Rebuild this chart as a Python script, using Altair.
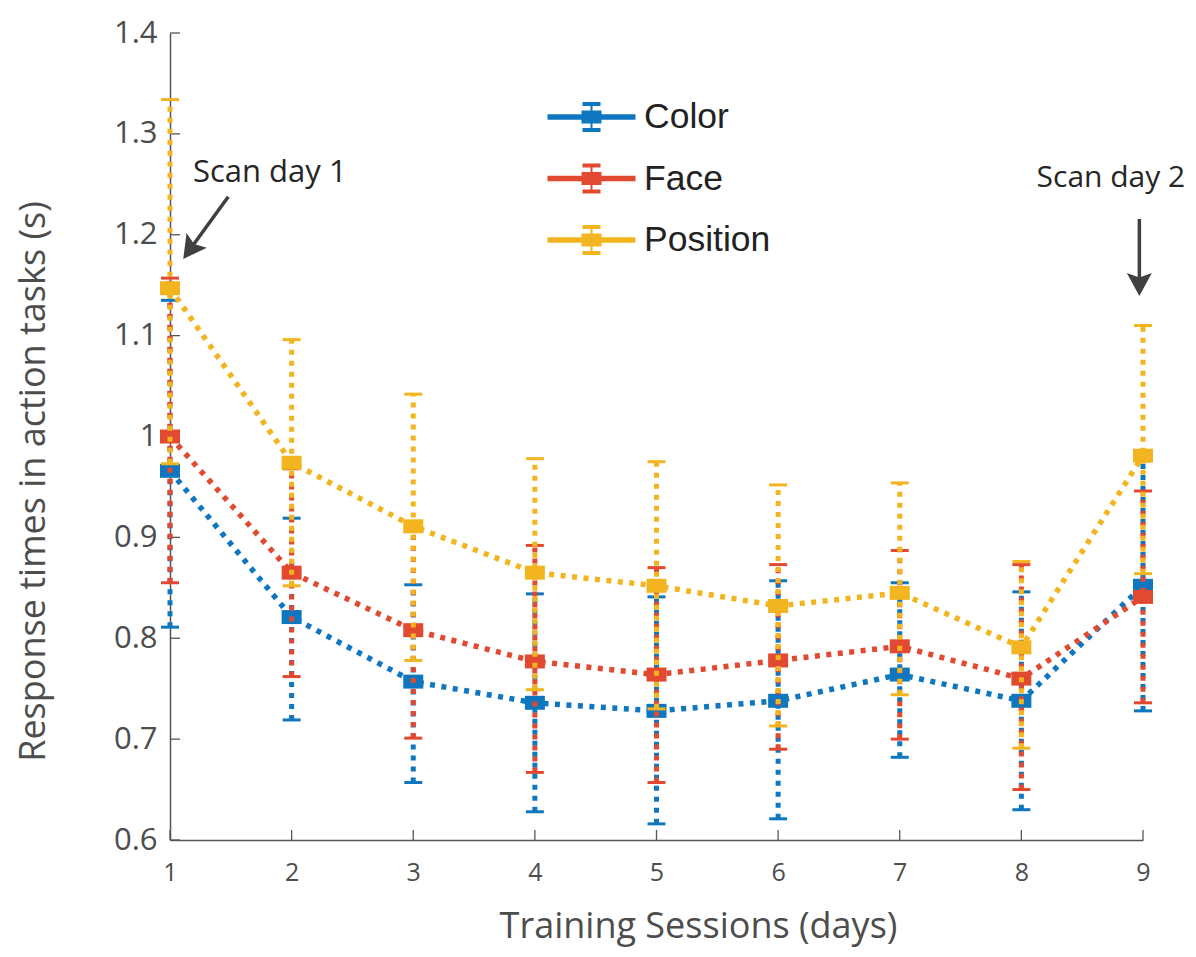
import altair as alt
import pandas as pd

# ---------------- data ----------------
days = [1, 2, 3, 4, 5, 6, 7, 8, 9]
series_names = ["Color", "Face", "Position"]
series_colors = ["#0E77BF", "#E14A31", "#F3B51F"]

color_mean = [0.966, 0.821, 0.757, 0.736, 0.728, 0.738, 0.764, 0.738, 0.852]
color_lo = [0.811, 0.719, 0.657, 0.628, 0.616, 0.621, 0.682, 0.630, 0.728]
color_hi = [1.135, 0.919, 0.853, 0.844, 0.841, 0.857, 0.855, 0.846, 0.976]

face_mean = [1.000, 0.865, 0.808, 0.777, 0.764, 0.778, 0.792, 0.760, 0.841]
face_lo = [0.855, 0.762, 0.701, 0.667, 0.657, 0.690, 0.700, 0.650, 0.736]
face_hi = [1.157, 0.968, 0.912, 0.892, 0.870, 0.873, 0.887, 0.873, 0.946]

pos_mean = [1.147, 0.974, 0.911, 0.865, 0.852, 0.832, 0.845, 0.791, 0.981]
pos_lo = [0.973, 0.852, 0.778, 0.749, 0.730, 0.713, 0.744, 0.691, 0.864]
pos_hi = [1.334, 1.096, 1.042, 0.978, 0.975, 0.952, 0.954, 0.876, 1.110]

y_ticks = [0.6, 0.7, 0.8, 0.9, 1.0, 1.1, 1.2, 1.3, 1.4]

ann_text = ["Scan day 1", "Scan day 2"]
ann_x = [1.189, 8.125]
ann_y = [1.2523, 1.2476]
ann_size = [31, 30]
arrow_x0 = [1.479, 8.97]
arrow_y0 = [1.2377, 1.2156]
arrow_x1 = [1.1668, 8.97]
arrow_y1 = [1.1858, 1.1512]
tip_x = [1.109, 8.97]
tip_y = [1.176, 1.1393]
tip_angle = [215.8, 180.0]

# ---------------- tables ----------------
rows = []
for name, m, lo, hi in [("Color", color_mean, color_lo, color_hi),
                        ("Face", face_mean, face_lo, face_hi),
                        ("Position", pos_mean, pos_lo, pos_hi)]:
    for d, a, b, c in zip(days, m, lo, hi):
        rows.append({"day": d, "series": name, "mean": a, "lo": b, "hi": c})
df = pd.DataFrame(rows)

ann_df = pd.DataFrame({"text": ann_text, "x": ann_x, "y": ann_y, "fs": ann_size,
                       "x0": arrow_x0, "y0": arrow_y0, "x1": arrow_x1, "y1": arrow_y1,
                       "tx": tip_x, "ty": tip_y, "ang": tip_angle})
ytick_df = pd.DataFrame({"v": y_ticks})
xtick_df = pd.DataFrame({"d": days})

W, H = 973, 807
xscale = alt.Scale(domain=[1, 9], nice=False, zero=False)
yscale = alt.Scale(domain=[0.6, 1.4], nice=False, zero=False)
cscale = alt.Scale(domain=series_names, range=series_colors)

AX_COLOR = "#555555"
TXT_COLOR = "#4d4d4d"

x_axis = alt.Axis(values=days, format="d", labelFontSize=25, labelPadding=20,
                  labelFlush=False,
                  ticks=False, tickSize=0, grid=False,
                  title="Training Sessions (days)", titleX=528, titleY=97,
                  titleBaseline="alphabetic", titleAlign="center")
y_axis = alt.Axis(values=y_ticks,
                  labelExpr="datum.value == 1 ? '1' : format(datum.value, '.1f')",
                  labelFontSize=31, labelPadding=13, labelFlush=False,
                  ticks=False, tickSize=0, grid=False,
                  title="Response times in action tasks (s)", titleX=-126, titleY=448,
                  titleAngle=270, titleBaseline="alphabetic", titleAlign="center")

legend_path = ("M-2.2,-0.14H2.2V0.14H-2.2Z "
               "M-0.5,-0.33H0.5V0.33H-0.5Z "
               "M-0.45,-0.75H0.45V-0.55H-0.45Z "
               "M-0.45,0.55H0.45V0.75H-0.45Z "
               "M-0.05,-0.65H0.05V0.65H-0.05Z")
marker_path = "M-1,-0.7H1V0.7H-1Z"
head_path = "M0,0L1.09,2L0,1.6L-1.09,2Z"

legend = alt.Legend(
    title=None, orient="none", legendX=401.5, legendY=64,
    symbolType=legend_path, symbolSize=1600, symbolStrokeWidth=0,
    symbolOpacity=1,
    labelFont="Liberation Sans", labelFontSize=35.5, labelColor="#222222",
    labelOffset=32.5, rowPadding=22.5, padding=0, labelLimit=0,
    values=series_names)


def X(field):
    return alt.X(field, scale=xscale, axis=x_axis)


def Y(field):
    return alt.Y(field, scale=yscale, axis=y_axis)


col = alt.Color("series:N", scale=cscale, legend=legend)

ytick_layer = alt.Chart(ytick_df).mark_rule(color=AX_COLOR, strokeWidth=1.3).encode(
    y=Y("v:Q"), x=alt.value(0), x2=alt.value(10),
)
xtick_layer = alt.Chart(xtick_df).mark_rule(color=AX_COLOR, strokeWidth=1.3).encode(
    x=X("d:Q"), y=alt.value(H), y2=alt.value(H - 10),
)

layers = [ytick_layer, xtick_layer]

for i, s in enumerate(series_names):
    base = alt.Chart(df).transform_filter(alt.datum.series == s)
    err = base.mark_rule(strokeWidth=5, strokeDash=[5, 6], strokeCap="butt").encode(
        x=X("day:Q"), y=Y("lo:Q"), y2="hi:Q", color=col)
    cap_lo = base.mark_tick(orient="horizontal", size=18, thickness=3, opacity=1).encode(
        x=X("day:Q"), y=Y("lo:Q"), color=col)
    cap_hi = base.mark_tick(orient="horizontal", size=18, thickness=3, opacity=1).encode(
        x=X("day:Q"), y=Y("hi:Q"), color=col)
    line = base.mark_line(strokeWidth=5.5, strokeDash=[5, 6.5], strokeCap="butt").encode(
        x=X("day:Q"), y=Y("mean:Q"), color=col)
    pts = base.mark_point(shape=marker_path, size=400, filled=True, opacity=1,
                          strokeWidth=0).encode(
        x=X("day:Q"), y=Y("mean:Q"), color=col)
    layers += [err, cap_lo, cap_hi, line, pts]

ann_base = alt.Chart(ann_df)
ann_text_layer = ann_base.mark_text(align="left", baseline="alphabetic", font="Open Sans",
                                    color="#262626").encode(
    x=X("x:Q"), y=Y("y:Q"), text="text:N", size=alt.Size("fs:Q", scale=None, legend=None))
ann_shaft = ann_base.mark_rule(color="#404040", strokeWidth=3.5).encode(
    x=X("x0:Q"), y=Y("y0:Q"), x2="x1:Q", y2="y1:Q")
ann_head = ann_base.mark_point(shape=head_path, size=529, filled=True, opacity=1,
                               color="#404040", strokeWidth=0).encode(
    x=X("tx:Q"), y=Y("ty:Q"), angle=alt.Angle("ang:Q", scale=None))
layers += [ann_shaft, ann_head, ann_text_layer]

chart = alt.layer(*layers).properties(
    width=W, height=H,
    autosize=alt.AutoSizeParams(type="none"),
    padding={"left": 162, "top": 25, "right": 45, "bottom": 109},
).configure_view(stroke=None).configure_axis(
    labelFont="Open Sans", labelColor=TXT_COLOR, titleFont="Open Sans",
    titleFontSize=36, titleFontWeight="normal", titleColor=TXT_COLOR,
    domainColor=AX_COLOR, domainWidth=1.5,
).configure_legend(labelFont="Liberation Sans")

chart.save("out.html", embed_options={"renderer": "svg", "actions": False})
